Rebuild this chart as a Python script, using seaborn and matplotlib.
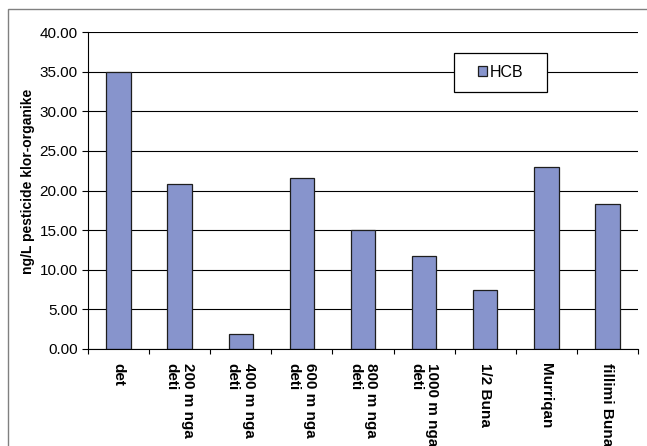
import matplotlib
matplotlib.use("Agg")
import matplotlib.pyplot as plt
import seaborn as sns
import pandas as pd
from matplotlib.patches import Rectangle
from matplotlib.ticker import FixedLocator, FormatStrFormatter

# Sampling sites along the river and the measured HCB concentration (ng/L)
sites = [
    "det",
    "200 m nga\ndeti",
    "400 m nga\ndeti",
    "600 m nga\ndeti",
    "800 m nga\ndeti",
    "1000 m nga\ndeti",
    "1/2 Buna",
    "Murriqan",
    "fillimi Buna",
]
hcb = [35.0, 20.8, 1.85, 21.55, 15.0, 11.75, 7.4, 23.0, 18.35]
y_ticks = [0, 5, 10, 15, 20, 25, 30, 35, 40]
series_name = "HCB"
y_title = "ng/L pesticide klor-organike"

BAR_COLOR = "#8794CC"
FS = 11

sns.set_style("white")
plt.rcParams["font.family"] = ["Liberation Sans", "DejaVu Sans"]
plt.rcParams.update({
    "text.color": "black",
    "axes.labelcolor": "black",
    "xtick.color": "black",
    "ytick.color": "black",
})

W, H = 647, 446
fig = plt.figure(figsize=(W / 100, H / 100), dpi=100)
ax = fig.add_axes([88 / W, (H - 349) / H, 550 / W, 317 / H])

df = pd.DataFrame({"site": sites, series_name: hcb})
sns.barplot(
    data=df, x="site", y=series_name, color=BAR_COLOR, saturation=1,
    width=0.4, edgecolor="#1e1e1e", linewidth=0.9, label=series_name,
    ax=ax,
)

# Axis ranges and horizontal gridlines
ax.set_xlim(-0.5, len(sites) - 0.5)
ax.set_ylim(y_ticks[0], y_ticks[-1])
ax.set_yticks(y_ticks)
ax.yaxis.set_major_formatter(FormatStrFormatter("%.2f"))
ax.set_axisbelow(True)
ax.yaxis.grid(True, color="black", linewidth=0.8)
ax.xaxis.grid(False)

for side in ("top", "right"):
    ax.spines[side].set_visible(False)
for side in ("left", "bottom"):
    ax.spines[side].set_color("black")
    ax.spines[side].set_linewidth(0.8)

# Category separators as ticks below the axis
ax.xaxis.set_minor_locator(FixedLocator([i - 0.5 for i in range(len(sites) + 1)]))
ax.tick_params(axis="x", which="minor", direction="out", length=3.5,
               width=0.8, color="black", bottom=True)
ax.tick_params(axis="x", which="major", length=0, pad=10)
ax.tick_params(axis="y", direction="out", length=4.5, width=0.8,
               color="black", pad=3, labelsize=FS, left=True)

ax.set_xticks(range(len(sites)))
ax.set_xticklabels(sites, rotation=-90, fontweight="bold", fontsize=FS,
                   ha="center", va="top", multialignment="left")
ax.set_xlabel("")
ax.set_ylabel(y_title, fontweight="bold", fontsize=10)
ax.yaxis.set_label_coords(-0.096, 0.528)

# Legend box
ax.add_patch(Rectangle((0.665, 0.811), 0.17, 0.123, transform=ax.transAxes,
                       facecolor="white", edgecolor="black", linewidth=0.9,
                       zorder=3))
ax.legend(loc="center", bbox_to_anchor=(0.75, 0.8725), frameon=False,
          fontsize=11.5, handlelength=0.55, handleheight=0.55,
          handletextpad=0.15, borderpad=0)

# Outer chart border
fig.add_artist(Rectangle((8 / W, -0.05), 1.0, (H - 9) / H + 0.05,
                         transform=fig.transFigure, fill=False,
                         edgecolor="#808080", linewidth=1))

fig.savefig("out.png", dpi=100)
